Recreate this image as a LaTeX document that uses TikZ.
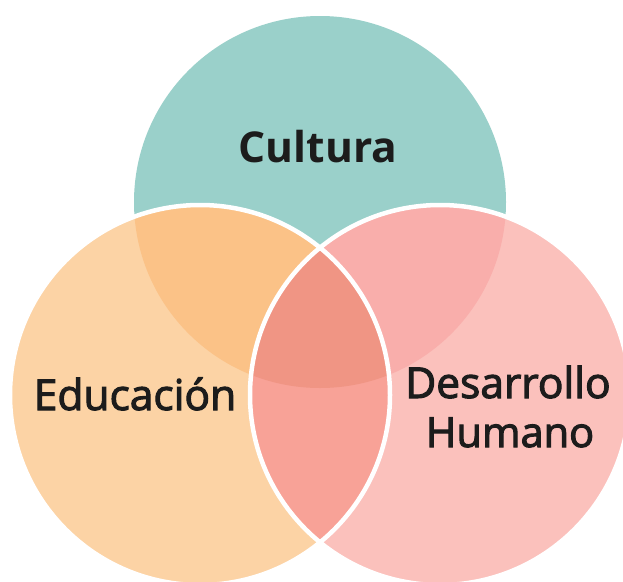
\documentclass[tikz,border=0pt]{standalone}
\usepackage{fontspec}
\setmainfont{Open Sans}
\newfontfamily\medfont{Open Sans}[FakeBold=2.5]
\definecolor{cteal}{HTML}{9AD0CA}
\definecolor{corange}{HTML}{FCD3A5}
\definecolor{cpink}{HTML}{FBC1BC}
\definecolor{cot}{HTML}{FBC287}
\definecolor{cpt}{HTML}{F9AEAB}
\definecolor{cop}{HTML}{F8A297}
\definecolor{call}{HTML}{F09584}
\definecolor{ctext}{HTML}{1C1C1C}
\tikzset{
  lbl/.style={anchor=base, text=ctext, inner sep=0pt, font=\medfont\fontsize{42.5}{48}\selectfont},
  rim/.style={draw=white, line width=4.5pt}
}
\begin{document}
\begin{tikzpicture}[x=1pt,y=-1pt]
\useasboundingbox (0,0) rectangle (623,581);
\fill[white] (0,0) rectangle (623,581);
\coordinate (T) at (320,202);
\coordinate (L) at (200,395);
\coordinate (R) at (440,395);
\def\rT{186}
\def\rS{190}
\fill[cteal] (T) circle (\rT);
\fill[corange] (L) circle (\rS);
\fill[cpink] (R) circle (\rS);
\begin{scope}
  \clip (T) circle (\rT);
  \fill[cot] (L) circle (\rS);
  \fill[cpt] (R) circle (\rS);
\end{scope}
\begin{scope}
  \clip (L) circle (\rS);
  \fill[cop] (R) circle (\rS);
  \clip (T) circle (\rT);
  \fill[call] (R) circle (\rS);
\end{scope}
\draw[rim] (L) circle (\rS);
\draw[rim] (R) circle (\rS);
\node[lbl, font=\rmfamily\fontsize{42.5}{48}\selectfont\bfseries] (cult) at (318,162) {Cultura};
\node[lbl] (edu) at (135,410) {Educación};
\node[lbl] (des) at (508,398) {Desarrollo};
\node[lbl, font=\medfont\fontsize{41.5}{48}\selectfont] (hum) at (510,447) {Humano};
\end{tikzpicture}
\end{document}
